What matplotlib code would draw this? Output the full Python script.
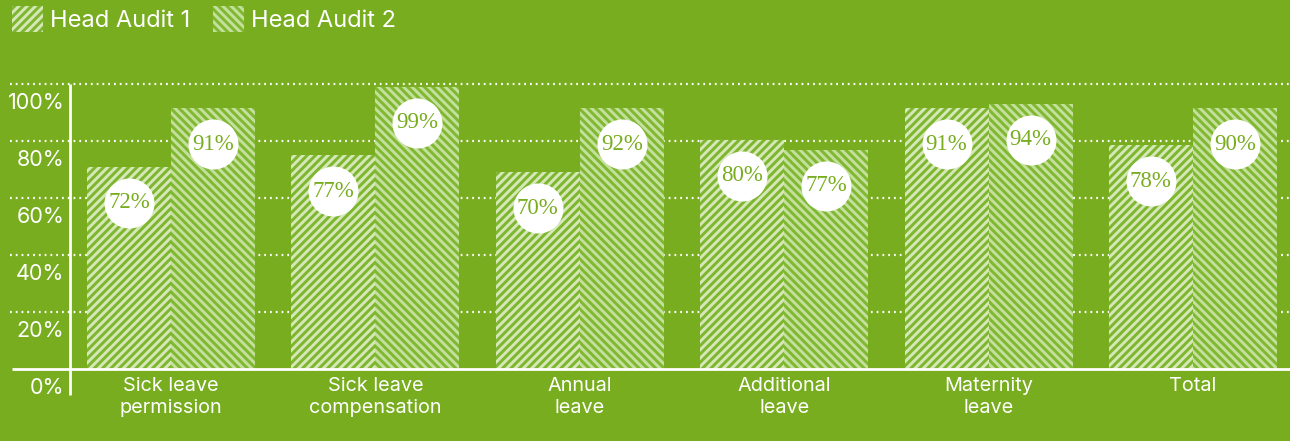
import matplotlib
matplotlib.use("Agg")
import matplotlib.pyplot as plt
import matplotlib.transforms as mtransforms
from matplotlib.patches import Patch

categories = ["Sick leave\npermission", "Sick leave\ncompensation", "Annual\nleave",
              "Additional\nleave", "Maternity\nleave", "Total"]
# bar heights as drawn in the picture (%)
audit1 = [71, 75, 69, 80.5, 91.5, 78.5]
audit2 = [91.5, 99, 91.5, 77, 93, 91.5]
# value labels printed in the circles
audit1_labels = ["72%", "77%", "70%", "80%", "91%", "78%"]
audit2_labels = ["91%", "99%", "92%", "77%", "94%", "90%"]
series_names = ["Head Audit 1", "Head Audit 2"]
yticks = [0, 20, 40, 60, 80, 100]
ytick_labels = ["0%", "20%", "40%", "60%", "80%", "100%"]

BG = "#78ad1f"
GREEN1 = "#7eb630"
LIGHT1 = "#d6e8b8"
GREEN2 = "#80b832"
LIGHT2 = "#c5df9d"
SANS = "Inter"
SERIF = "Liberation Serif"
HATCH1 = "////"
HATCH2 = "\\\\\\\\"

plt.rcParams["hatch.linewidth"] = 2.1
plt.rcParams["font.family"] = [SANS, "DejaVu Sans"]

W, H = 1290, 441
fig = plt.figure(figsize=(W / 100, H / 100), dpi=100, facecolor=BG)
ax_left, ax_bottom, ax_top = 70, 369, 84
ax = fig.add_axes([ax_left / W, (H - ax_bottom) / H, 1 - ax_left / W, (ax_bottom - ax_top) / H])
ax.set_facecolor(BG)
ax.set_ylim(0, 100)
ax.set_xlim(-0.494, 5.475)

x = list(range(len(categories)))
w = 0.411
ax_w_px = W - ax_left
ext = -60 / ax_w_px

# gridlines (dotted), extend left of axes
for t in yticks[1:]:
    ax.axhline(t, xmin=ext, xmax=1, color="white", lw=1.6,
               linestyle=(0, (0.8, 1.8)), zorder=0, clip_on=False)

x1 = [i - w / 2 for i in x]
x2 = [i + w / 2 for i in x]
ax.bar(x1, audit1, width=w, facecolor=GREEN1, edgecolor=LIGHT1,
       hatch=HATCH1, linewidth=0, zorder=2)
ax.bar(x2, audit2, width=w, facecolor=GREEN2, edgecolor=LIGHT2,
       hatch=HATCH2, linewidth=0, zorder=2)

# baseline and y-axis line
ax.plot([-58 / ax_w_px, 1], [0, 0], transform=ax.transAxes, color="white",
        lw=2, clip_on=False, zorder=3, solid_capstyle="butt")
ax.plot([0, 0], [-26 / (ax_bottom - ax_top), 1], transform=ax.transAxes,
        color="white", lw=2, clip_on=False, zorder=3, solid_capstyle="butt")

# circles with values
off = mtransforms.offset_copy(ax.transData, fig=fig, x=0, y=-36, units="dots")
for xs, vals, labs in ((x1, audit1, audit1_labels), (x2, audit2, audit2_labels)):
    ax.scatter(xs, vals, s=1296, color="white", linewidths=0, zorder=4,
               transform=off, clip_on=False)
    for xi, v, lab in zip(xs, vals, labs):
        ax.text(xi, v, lab, transform=off, ha="center", va="center",
                fontsize=16.5, family=[SERIF, "DejaVu Serif"], color=BG, zorder=5)

for s in ax.spines.values():
    s.set_visible(False)

ax.set_yticks(yticks)
ax.set_yticklabels(ytick_labels, fontsize=15.5, color="white")
ax.tick_params(axis="y", length=0, pad=4)
shift = mtransforms.ScaledTranslation(0, -17 / 100, fig.dpi_scale_trans)
for lab in ax.get_yticklabels():
    lab.set_transform(lab.get_transform() + shift)

ax.set_xticks(x)
ax.set_xticklabels(categories, fontsize=14.3, color="white", linespacing=1.28)
ax.tick_params(axis="x", length=0, pad=6)

handles = [Patch(facecolor=GREEN1, edgecolor=LIGHT1, hatch=HATCH1, linewidth=0),
           Patch(facecolor=GREEN2, edgecolor=LIGHT2, hatch=HATCH2, linewidth=0)]
leg = fig.legend(handles, series_names, loc="upper left",
                 bbox_to_anchor=(12 / W, 1 - 6 / H), ncol=2, frameon=False,
                 fontsize=17, handlelength=1.31, handleheight=1.31,
                 handletextpad=0.3, columnspacing=0.97, borderpad=0,
                 borderaxespad=0)
for t in leg.get_texts():
    t.set_color("white")

fig.savefig("out.png", dpi=100, facecolor=BG)
